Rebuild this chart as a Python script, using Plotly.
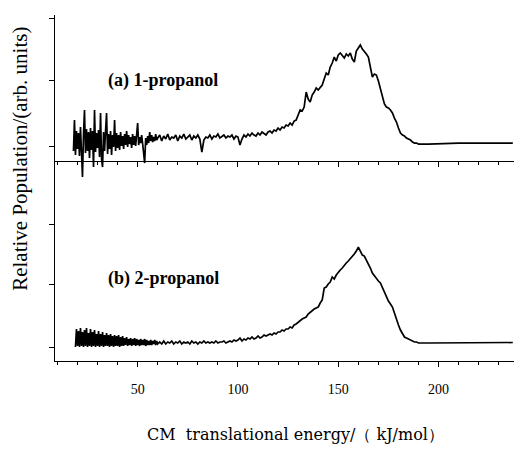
import plotly.graph_objects as go

# ---- energy grids (kJ/mol) ----
energy_noise_a = [v / 2 for v in range(36, 121)]      # 18.0 .. 60.0
energy_noise_b = [v / 2 for v in range(38, 121)]      # 19.0 .. 60.0
energy_mid = list(range(61, 131))                      # 61 .. 130
energy_peak = list(range(131, 191))                    # 131 .. 190
energy_tail = [195, 200, 205, 210, 220, 230, 237]

# ---- (a) 1-propanol ----
pop_a_noise = [1.0, 4.1, 0.6, 3.0, 1.2, 2.8, 0.5, 3.4, 0.9, -1.6,
               2.6, 5.1, 0.8, 3.2, 1.0, 2.9, 0.3, 3.3, 1.1, 3.0,
               -0.6, 5.1, 0.9, 2.8, 1.3, 3.1, 0.4, 4.8, 0.2, -0.6,
               2.9, 1.0, 3.0, 4.8, 0.7, 2.7, 1.2, 3.0, 0.6, 2.6,
               1.4, 4.1, 1.0, 2.8, 1.3, 2.6, 1.1, 2.9, 1.5, 2.5,
               1.2, 2.7, 1.6, 3.0, 1.4, 2.6, 1.7, 2.4, 1.3, 2.7,
               1.6, 2.5, 1.5, 3.2, 3.8, 1.6, 2.4, 1.8, 2.6, 1.7,
               0.3, -0.2, 2.3, 1.6, 2.5, 1.8, 2.9, 2.0, 2.6, 1.9,
               2.4, 2.0, 2.7, 2.1, 2.3]
pop_a_mid = [2.6, 2.0, 2.5, 2.2, 2.7, 2.1, 2.4, 2.3, 2.6, 2.0,
             2.5, 2.3, 2.7, 2.2, 2.4, 2.6, 2.1, 2.5, 2.3, 2.6,
             2.2, 0.9, 2.1, 2.4, 2.3, 2.6, 2.2, 2.5, 2.4, 2.7,
             2.3, 2.5, 2.6, 2.3, 2.5, 2.4, 2.6, 2.2, 2.5, 2.4,
             1.6, 2.2, 2.6, 2.4, 2.7, 2.5, 2.8, 2.6, 2.5, 2.8,
             2.6, 2.9, 2.7, 2.6, 2.9, 3.0, 2.8, 3.1, 3.0, 3.3,
             3.1, 3.4, 3.3, 3.6, 3.5, 3.8, 3.6, 4.0, 4.1, 4.6]
pop_a_peak = [5.1, 5.0, 5.4, 6.9, 6.2, 5.9, 6.6, 6.9, 7.3, 7.1,
              7.4, 7.6, 8.2, 8.8, 8.6, 9.4, 9.8, 10.4, 10.0, 10.6,
              10.8, 10.5, 10.3, 10.7, 10.5, 10.8, 10.2, 9.9, 11.0, 11.3,
              11.6, 11.2, 11.0, 10.7, 10.4, 9.4, 8.4, 8.7, 8.6, 8.0,
              7.3, 6.6, 5.7, 5.4, 5.3, 5.1, 4.8, 4.3, 3.9, 3.3,
              2.8, 2.6, 2.5, 2.3, 2.2, 2.1, 1.9, 1.8, 1.8, 1.7]
pop_a_tail = [1.7, 1.75, 1.8, 1.8, 1.8, 1.8, 1.8]

# ---- (b) 2-propanol ----
pop_b_noise = [1.4, 3.2, 1.5, 3.0, 1.4, 3.3, 1.5, 2.9, 1.4, 3.1,
               1.5, 3.3, 1.4, 2.8, 1.5, 3.2, 1.4, 2.9, 1.5, 3.1,
               1.4, 2.7, 1.5, 3.0, 1.4, 2.7, 1.5, 2.9, 1.4, 2.6,
               1.5, 2.8, 1.5, 2.6, 1.4, 2.7, 1.5, 2.5, 1.4, 2.6,
               1.5, 2.5, 1.5, 2.6, 1.4, 2.4, 1.5, 2.5, 1.5, 2.3,
               1.6, 2.4, 1.5, 2.2, 1.6, 2.3, 1.5, 2.2, 1.6, 2.3,
               1.5, 2.2, 1.6, 2.1, 1.5, 2.2, 1.6, 2.1, 1.6, 2.2,
               1.5, 2.1, 1.6, 2.0, 1.6, 2.1, 1.6, 2.0, 1.7, 2.1,
               1.6, 2.0, 1.7]
pop_b_mid = [1.9, 1.7, 2.0, 1.7, 1.9, 1.8, 2.0, 1.7, 1.9, 1.8,
             2.0, 1.7, 1.9, 1.8, 1.9, 1.7, 2.0, 1.8, 1.9, 1.7,
             1.9, 1.8, 2.0, 1.8, 1.9, 1.8, 1.9, 1.8, 2.0, 1.8,
             1.9, 1.9, 2.0, 1.8, 1.9, 2.0, 1.9, 2.1, 2.0, 2.1,
             2.3, 2.0, 2.2, 2.1, 2.3, 2.2, 2.4, 2.2, 2.3, 2.5,
             2.3, 2.4, 2.6, 2.5, 2.6, 2.7, 2.6, 2.8, 2.7, 2.9,
             2.9, 3.1, 3.0, 3.2, 3.2, 3.4, 3.3, 3.6, 3.7, 3.9]
pop_b_peak = [4.1, 4.2, 4.3, 4.4, 4.7, 4.9, 5.1, 5.2, 5.3, 5.4,
              5.8, 6.1, 7.3, 7.4, 7.7, 7.9, 8.4, 8.2, 8.6, 8.9,
              9.1, 9.3, 9.6, 9.8, 10.0, 10.2, 10.4, 10.7, 11.0, 11.4,
              11.0, 10.6, 10.5, 10.1, 9.8, 9.3, 8.8, 8.5, 8.2, 8.0,
              7.8, 7.3, 6.9, 6.4, 6.0, 5.7, 5.4, 4.8, 4.1, 3.6,
              3.1, 2.7, 2.4, 2.3, 2.2, 2.1, 2.0, 1.9, 1.9, 1.8]
pop_b_tail = [1.8, 1.8, 1.8, 1.8, 1.8, 1.85, 1.85]

x_ticks = [50, 100, 150, 200]
label_a = "(a) 1-propanol"
label_b = "(b) 2-propanol"
x_title = "CM  translational energy/（ kJ/mol）"
y_title = "Relative Population/(arb. units)"

energy_a = energy_noise_a + energy_mid + energy_peak + energy_tail
pop_a = pop_a_noise + pop_a_mid + pop_a_peak + pop_a_tail
energy_b = energy_noise_b + energy_mid + energy_peak + energy_tail
pop_b = pop_b_noise + pop_b_mid + pop_b_peak + pop_b_tail
assert len(energy_a) == len(pop_a), (len(energy_a), len(pop_a))
assert len(energy_b) == len(pop_b), (len(energy_b), len(pop_b))

SERIF = "Liberation Serif, Times New Roman, serif"
XR = [8.8, 237.6]

fig = go.Figure()
fig.add_trace(go.Scatter(x=energy_a, y=pop_a, mode="lines", xaxis="x", yaxis="y",
                         line=dict(color="black", width=1.7), showlegend=False))
fig.add_trace(go.Scatter(x=energy_b, y=pop_b, mode="lines", xaxis="x2", yaxis="y2",
                         line=dict(color="black", width=1.7), showlegend=False))

axis_common = dict(showgrid=False, zeroline=False, showline=True, linecolor="black",
                   linewidth=1, ticks="outside", tickcolor="black")

fig.update_layout(
    width=514, height=462,
    margin=dict(l=55, r=0, t=15, b=101),
    paper_bgcolor="white", plot_bgcolor="white",
    xaxis=dict(range=XR, anchor="free", position=0.578, domain=[0, 1],
               tickvals=x_ticks, showticklabels=False, ticklen=5,
               minor=dict(dtick=10, tick0=0, ticks="outside", ticklen=3, tickcolor="black"),
               **axis_common),
    yaxis=dict(range=[-1.9, 14.6], domain=[0.523, 1], anchor="x",
               tickvals=[1.5, 8.1, 14.3], showticklabels=False, ticklen=5,
               **axis_common),
    xaxis2=dict(range=XR, anchor="y2", domain=[0, 1], tickvals=x_ticks,
                ticktext=[str(v) for v in x_ticks], ticklen=5,
                ticklabelstandoff=10,
                tickfont=dict(family=SERIF, size=14, color="black"),
                minor=dict(dtick=10, tick0=0, ticks="outside", ticklen=3, tickcolor="black"),
                **axis_common),
    yaxis2=dict(range=[0, 18.1], domain=[0, 0.523], anchor="x2",
                tickvals=[1.4, 7.7, 13.7], showticklabels=False, ticklen=5,
                **axis_common),
    annotations=[
        dict(text=label_a, x=0.111, y=0.812, xref="paper", yref="paper",
             xanchor="left", yanchor="middle", showarrow=False,
             font=dict(family=SERIF, size=18, color="black", weight="bold")),
        dict(text=label_b, x=0.111, y=0.237, xref="paper", yref="paper",
             xanchor="left", yanchor="middle", showarrow=False,
             font=dict(family=SERIF, size=18, color="black", weight="bold")),
        dict(text=x_title, x=0.523, y=-0.211, xref="paper", yref="paper",
             xanchor="center", yanchor="middle", showarrow=False,
             font=dict(family="DejaVu Serif, serif", size=16, color="black")),
        dict(text=y_title, x=-0.078, y=0.585, xref="paper", yref="paper",
             xanchor="center", yanchor="middle", showarrow=False, textangle=-90,
             font=dict(family=SERIF, size=21, color="black")),
    ],
)

fig.write_html("out.html", config={"displayModeBar": False},
               post_script="document.body.style.margin='0';")
